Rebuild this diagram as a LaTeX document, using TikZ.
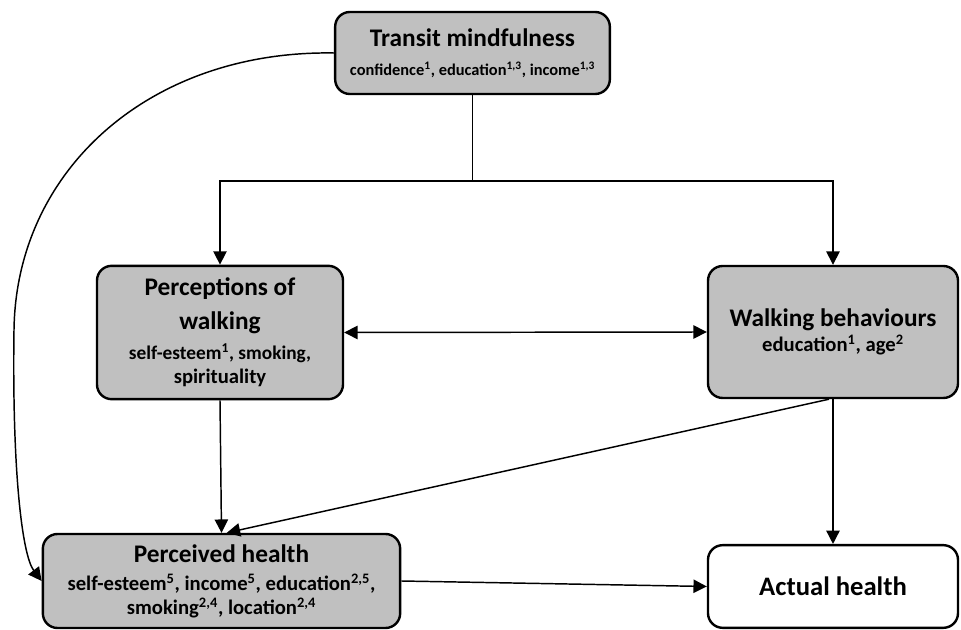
\documentclass[tikz,border=0pt]{standalone}
\usepackage{fontspec}
\setmainfont{Carlito}
\usetikzlibrary{arrows.meta}
\definecolor{boxgrey}{RGB}{192,192,192}
\newcommand{\headfont}{\fontsize{19}{25.5}\selectfont}
\newcommand{\subfont}{\fontsize{15.5}{18}\selectfont}

\begin{document}
\begin{tikzpicture}[
  x=0.75pt, y=-0.75pt,
  font=\bfseries\subfont,
  box/.style={draw=black, line width=1.8pt, rounded corners=11pt, align=center, inner sep=2pt},
  greybox/.style={box, fill=boxgrey},
  tip/.tip={Triangle[length=10pt,width=10pt]},
  link/.style={line width=1.1pt, -tip},
  both/.style={line width=1.1pt, tip-tip}
]
\useasboundingbox (0,0) rectangle (961,630);
\node[greybox, minimum width=206pt, minimum height=61.5pt] (tm) at (472.5,53)
  {{\headfont Transit mindfulness}\\[4pt]
   \fontsize{12.3}{15}\selectfont confidence\textsuperscript{1}, education\textsuperscript{1,3}, income\textsuperscript{1,3}};
\node[greybox, minimum width=184.5pt, minimum height=100pt] (pw) at (220,332.5)
  {{\headfont Perceptions of}\\[7.5pt]{\headfont walking}\\[4.5pt]
   \fontsize{14.5}{16.5}\selectfont self-esteem\textsuperscript{1}, smoking,\\spirituality};
\node[greybox, minimum width=187.5pt, minimum height=99pt] (wb) at (833,332)
  {{\headfont Walking behaviours}\\[1pt]
   education\textsuperscript{1}, age\textsuperscript{2}};
\node[greybox, minimum width=268pt, minimum height=70.5pt] (ph) at (221.5,581)
  {{\headfont Perceived health}\\[3pt]
   self-esteem\textsuperscript{5}, income\textsuperscript{5}, education\textsuperscript{2,5},\\
   smoking\textsuperscript{2,4}, location\textsuperscript{2,4}};
\node[box, fill=white, minimum width=187.5pt, minimum height=62pt] (ah) at (833,586.5)
  {{\fontsize{20}{24}\selectfont Actual health}};

\draw[line width=1.1pt] (tm.south) -- ++(0,86) coordinate (split);
\draw[link] (split) -| (pw.north);
\draw[link] (split) -| (wb.north);
\draw[link] (tm.west) .. controls (150,50) and (16,170) .. (14,330)
  .. controls (12,470) and (22,555) .. (ph.west);
\draw[both] (pw.east) -- (wb.west);
\draw[link] (pw.south) -- (ph.north);
\draw[link] ([xshift=-3pt]wb.south) -- ([xshift=4pt]ph.north);
\draw[link] (wb.south) -- (ah.north);
\draw[link] (ph.east) -- (ah.west);
\end{tikzpicture}
\end{document}
